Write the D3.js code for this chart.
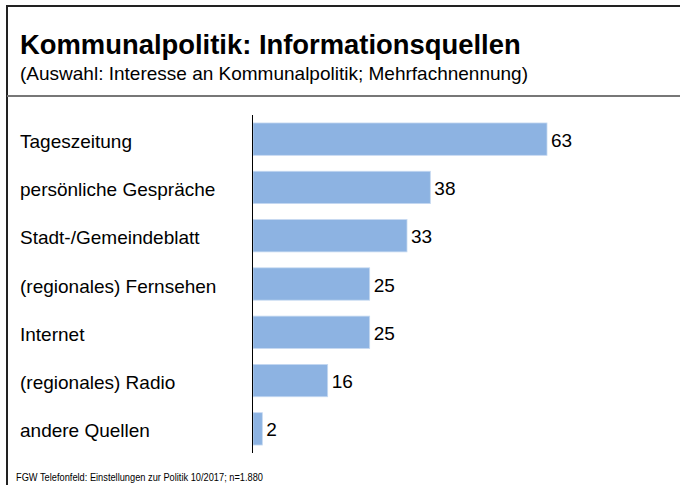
<!DOCTYPE html>
<html>
<head>
<meta charset="utf-8">
<script src="https://cdn.jsdelivr.net/npm/d3@7"></script>
<style>
  html, body { margin: 0; padding: 0; background: #fff; }
  svg { display: block; }
</style>
</head>
<body>
<svg id="chart" width="680" height="485"></svg>
<script>
// Data
const categories = [
  'Tageszeitung',
  'persönliche Gespräche',
  'Stadt-/Gemeindeblatt',
  '(regionales) Fernsehen',
  'Internet',
  '(regionales) Radio',
  'andere Quellen'
];
const values = [63, 38, 33, 25, 25, 16, 2];

const title = 'Kommunalpolitik: Informationsquellen';
const subtitle = '(Auswahl: Interesse an Kommunalpolitik; Mehrfachnennung)';
const source = 'FGW Telefonfeld: Einstellungen zur Politik 10/2017; n=1.880';

const W = 680, H = 485;
const FONT = '"Liberation Sans", Arial, Helvetica, sans-serif';
const BAR = '#8db3e2';

const svg = d3.select('#chart');

// frame + header separator
svg.append('path')
  .attr('d', `M7,${H + 5}V6H${W + 5}`)
  .attr('fill', 'none').attr('stroke', '#222').attr('stroke-width', 2);
svg.append('line')
  .attr('x1', 7).attr('x2', W + 5).attr('y1', 96).attr('y2', 96)
  .attr('stroke', '#777').attr('stroke-width', 2);

svg.append('text').text(title)
  .attr('x', 20).attr('y', 54)
  .attr('font-family', FONT).attr('font-size', 27.4).attr('font-weight', 'bold')
  .attr('fill', '#000');
svg.append('text').text(subtitle)
  .attr('x', 20).attr('y', 80)
  .attr('font-family', FONT).attr('font-size', 19).attr('fill', '#000');
svg.append('text').text(source)
  .attr('x', 16).attr('y', 481)
  .attr('textLength', 247).attr('lengthAdjust', 'spacingAndGlyphs')
  .attr('font-family', FONT).attr('font-size', 11).attr('fill', '#000');

const x = d3.scaleLinear().domain([0, 63]).range([253, 547]);
const y = d3.scaleBand().domain(categories).range([115, 453])
  .paddingInner(0.33).paddingOuter(0.165);

const rows = svg.append('g').selectAll('g')
  .data(categories.map((c, i) => ({ c, v: values[i] })))
  .join('g');

rows.append('rect')
  .attr('x', x(0))
  .attr('y', d => y(d.c))
  .attr('width', d => x(d.v) - x(0))
  .attr('height', y.bandwidth())
  .attr('fill', BAR)
  .attr('stroke', '#c6d9f1').attr('stroke-width', 0.8);

rows.append('text').text(d => d.c)
  .attr('x', 20)
  .attr('y', d => y(d.c) + y.bandwidth() / 2)
  .attr('dy', '0.45em')
  .attr('font-family', FONT).attr('font-size', 19).attr('fill', '#000');

rows.append('text').text(d => d.v)
  .attr('x', d => x(d.v) + 4)
  .attr('y', d => y(d.c) + y.bandwidth() / 2)
  .attr('dy', '0.4em')
  .attr('font-family', FONT).attr('font-size', 19).attr('fill', '#000');

// vertical axis line
svg.append('line')
  .attr('x1', x(0) - 0.5).attr('x2', x(0) - 0.5)
  .attr('y1', 115).attr('y2', 453)
  .attr('stroke', '#000').attr('stroke-width', 1);
</script>
</body>
</html>
